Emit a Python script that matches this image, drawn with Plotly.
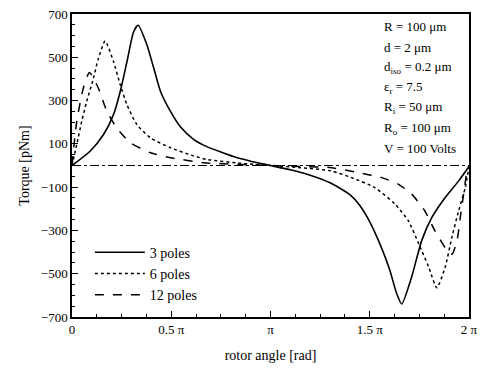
import math
import plotly.graph_objects as go

PI = math.pi

# angles in units of pi, torque in pNm
ang3 = [0, 0.091, 0.159, 0.209, 0.243, 0.277, 0.31, 0.333, 0.378, 0.412, 0.446, 0.496, 0.547, 0.614, 0.682,
        0.75, 0.817, 0.9, 1.0, 1.1, 1.2, 1.3, 1.4, 1.45, 1.5, 1.55, 1.6, 1.635, 1.661, 1.711, 1.762, 1.813,
        1.88, 1.948, 2.0]
tq3 = [0, 66, 143, 235, 342, 480, 617, 648, 556, 449, 342, 250, 178, 120, 86,
       62, 40, 20, 0, -20, -45, -80, -135, -185, -260, -360, -480, -590, -640, -515, -346, -240,
       -148, -71, -5]

ang6 = [0, 0.024, 0.049, 0.074, 0.108, 0.133, 0.167, 0.209, 0.243, 0.277, 0.327, 0.395, 0.496, 0.614,
        0.68, 0.85, 1.0, 1.15, 1.306, 1.408, 1.525, 1.627, 1.694, 1.747, 1.797, 1.838, 1.88, 1.914,
        1.948, 1.981, 2.0]
tq6 = [0, 97, 204, 296, 403, 495, 575, 480, 373, 281, 189, 128, 82, 44,
       28, 10, 0, -10, -25, -56, -102, -178, -255, -362, -469, -565, -469, -331,
       -209, -102, -5]

ang12 = [0, 0.024, 0.057, 0.088, 0.133, 0.176, 0.226, 0.294, 0.395, 0.496, 0.665, 0.85, 1.0, 1.15,
         1.306, 1.44, 1.56, 1.643, 1.711, 1.777, 1.828, 1.889, 1.914, 1.94, 1.956, 1.973, 1.99, 2.0]
tq12 = [0, 204, 357, 430, 357, 250, 173, 105, 59, 36, 13, 5, 0, -5,
        -10, -33, -56, -86, -132, -209, -301, -392, -410, -346, -240, -132, -25, 0]

series = [("3 poles", ang3, tq3, "solid", 1.6),
          ("6 poles", ang6, tq6, "dot", 1.5),
          ("12 poles", ang12, tq12, "dash", 1.5)]

xtick_vals = [0, 0.5, 1.0, 1.5, 2.0]
xtick_text = ["0", "0.5 π", "π", "1.5 π", "2 π"]
ytick_vals = [700, 500, 300, 100, -100, -300, -500, -700]

params = ["R = 100 μm", "d = 2 μm", "d<sub>iso</sub> = 0.2 μm", "ε<sub>r</sub> = 7.5",
          "R<sub>i</sub> = 50 μm", "R<sub>o</sub> = 100 μm", "V = 100 Volts"]

FONT = "Liberation Serif, Times New Roman, serif"

fig = go.Figure()
for name, a, t, dash, w in series:
    fig.add_trace(go.Scatter(x=[v * PI for v in a], y=t, mode="lines", name=name,
                             line=dict(color="black", dash=dash, width=w, shape="spline", smoothing=0.6)))

fig.add_shape(type="line", xref="x", yref="y", x0=0, x1=2 * PI, y0=0, y1=0,
              line=dict(color="black", width=1, dash="dashdot"))

# parameter block, one line each (plot area spans 305 px vertically)
for i, txt in enumerate(params):
    ypix = 25 + 20.4 * i
    fig.add_annotation(xref="paper", yref="paper", x=(380 - 72) / 395, y=(317 - ypix) / 305,
                       xanchor="left", yanchor="middle", text=txt, showarrow=False, align="left",
                       font=dict(family=FONT, size=13, color="black"))

fig.update_layout(
    width=485, height=374,
    margin=dict(l=72, r=14, t=7, b=57),
    paper_bgcolor="white", plot_bgcolor="white",
    font=dict(family=FONT, size=13, color="black"),
    showlegend=True,
    legend=dict(x=0.045, y=0.265, xanchor="left", yanchor="top", bgcolor="rgba(0,0,0,0)",
                font=dict(family=FONT, size=14), tracegroupgap=0, itemwidth=50),
)
fig.update_xaxes(range=[0, 2 * PI], tickvals=[v * PI for v in xtick_vals], ticktext=xtick_text,
                 showgrid=False, zeroline=False, showline=True, linecolor="black", linewidth=1.5,
                 mirror=True, ticks="inside", ticklen=6, tickcolor="black",
                 minor=dict(dtick=PI / 8, tick0=0, ticks="inside", ticklen=3, tickcolor="black"),
                 title=dict(text="rotor angle [rad]", font=dict(family=FONT, size=14), standoff=14),
                 tickfont=dict(family=FONT, size=13))
fig.update_yaxes(range=[-700, 700], tickvals=ytick_vals,
                 showgrid=False, zeroline=False, showline=True, linecolor="black", linewidth=1.5,
                 mirror=True, ticks="inside", ticklen=6, tickcolor="black",
                 minor=dict(dtick=50, tick0=0, ticks="inside", ticklen=3, tickcolor="black"),
                 title=dict(text="Torque [pNm]", font=dict(family=FONT, size=14), standoff=8),
                 tickfont=dict(family=FONT, size=13))

fig.write_html("out.html")
